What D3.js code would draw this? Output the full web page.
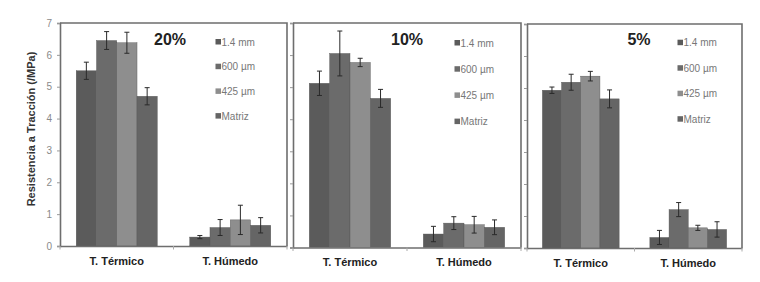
<!DOCTYPE html>
<html>
<head>
<meta charset="utf-8">
<script src="https://cdn.jsdelivr.net/npm/d3@7"></script>
<style>
  html, body { margin: 0; padding: 0; background: #fff; }
  svg { display: block; font-family: "Liberation Sans", Arial, sans-serif; }
</style>
</head>
<body>
<svg id="chart" width="760" height="282"></svg>
<script>
// ---- data ----
const categories = ["T. Térmico", "T. Húmedo"];
const seriesNames = ["1.4 mm", "600 µm", "425 µm", "Matriz"];
const panelTitles = ["20%", "10%", "5%"];
const yTicks = [0, 1, 2, 3, 4, 5, 6, 7];

// values[category][series]
const values20 = [[5.50, 6.45, 6.38, 4.70], [0.28, 0.58, 0.82, 0.65]];
const errors20 = [[0.27, 0.28, 0.33, 0.27], [0.05, 0.25, 0.46, 0.24]];
const values10 = [[5.12, 6.05, 5.77, 4.65], [0.42, 0.76, 0.71, 0.63]];
const errors10 = [[0.38, 0.70, 0.13, 0.28], [0.24, 0.20, 0.26, 0.23]];
const values5  = [[4.93, 5.18, 5.37, 4.66], [0.33, 1.20, 0.63, 0.58]];
const errors5  = [[0.10, 0.25, 0.15, 0.28], [0.22, 0.22, 0.08, 0.24]];

const panelValues = [values20, values10, values5];
const panelErrors = [errors20, errors10, errors5];

// ---- styling / layout ----
const colors = ["#5b5b5b", "#6b6b6b", "#8e8e8e", "#656565"];
const layout = [
  { x0: 60,  x1: 287, y0: 23, y1: 246,   titleX: 110, legX: 158, legY: 42, legDy: 24.7, labels: true },
  { x0: 293, x1: 521, y0: 23, y1: 247.5, titleX: 114, legX: 164, legY: 43, legDy: 26.2, labels: false },
  { x0: 527, x1: 742, y0: 24, y1: 248,   titleX: 112, legX: 153, legY: 42.7, legDy: 25.5, labels: false }
];
const frameColor = "#6e6e6e";

const svg = d3.select("#chart");

// y-axis title
svg.append("text")
  .attr("transform", "translate(35,129) rotate(-90)")
  .attr("text-anchor", "middle")
  .attr("font-size", 11).attr("font-weight", "bold").attr("fill", "#333")
  .text("Resistencia a Tracción (/MPa)");

layout.forEach((L, pi) => {
  const g = svg.append("g");
  const x0 = d3.scaleBand().domain(categories).range([L.x0, L.x1]).padding(0);
  const x1 = d3.scaleBand().domain(seriesNames).range([0, x0.bandwidth()]).paddingInner(0).paddingOuter(0.8);
  const y = d3.scaleLinear().domain([0, 7]).range([L.y1, L.y0]);

  // frame (top and right)
  g.append("path")
    .attr("d", `M${L.x0},${L.y0}H${L.x1}V${L.y1}`)
    .attr("fill", "none").attr("stroke", frameColor).attr("stroke-width", 1.6);

  // bars
  const vals = panelValues[pi], errs = panelErrors[pi];
  categories.forEach((c, ci) => {
    seriesNames.forEach((s, si) => {
      const v = vals[ci][si];
      g.append("rect")
        .attr("x", x0(c) + x1(s))
        .attr("y", y(v))
        .attr("width", x1.bandwidth())
        .attr("height", y(0) - y(v))
        .attr("fill", colors[si])
        .attr("stroke", "#555").attr("stroke-width", 0.4);
    });
  });
  // error bars
  categories.forEach((c, ci) => {
    seriesNames.forEach((s, si) => {
      const v = vals[ci][si], e = errs[ci][si];
      const cx = x0(c) + x1(s) + x1.bandwidth() / 2;
      const eg = g.append("g").attr("stroke", "#2a2a2a").attr("stroke-width", 1);
      eg.append("line").attr("x1", cx).attr("x2", cx).attr("y1", y(v + e)).attr("y2", y(v - e));
      eg.append("line").attr("x1", cx - 2.5).attr("x2", cx + 2.5).attr("y1", y(v + e)).attr("y2", y(v + e));
      eg.append("line").attr("x1", cx - 2.5).attr("x2", cx + 2.5).attr("y1", y(v - e)).attr("y2", y(v - e));
    });
  });

  // y axis
  const yAxis = d3.axisLeft(y).tickValues(yTicks).tickSize(3).tickPadding(5)
    .tickFormat(L.labels ? d3.format("d") : () => "");
  const ya = g.append("g").attr("transform", `translate(${L.x0},0)`).call(yAxis);
  ya.select(".domain").attr("stroke", frameColor).attr("stroke-width", 1.6);
  ya.selectAll(".tick line").attr("stroke", "#999");
  ya.selectAll(".tick text").attr("fill", "#8a8a8a").attr("font-size", 10)
    .attr("font-family", "Liberation Sans, Arial, sans-serif");

  // x axis
  const xa = g.append("g").attr("transform", `translate(0,${L.y1})`)
    .call(d3.axisBottom(x0).tickSize(0).tickPadding(11));
  xa.select(".domain").attr("stroke", frameColor).attr("stroke-width", 1.6);
  xa.selectAll(".tick text").attr("fill", "#222").attr("font-size", 11).attr("font-weight", "bold")
    .attr("font-family", "Liberation Sans, Arial, sans-serif");
  // boundary ticks
  const bounds = [L.x0, L.x0 + x0.bandwidth(), L.x1];
  xa.selectAll("line.bt").data(bounds).join("line").attr("class", "bt")
    .attr("x1", d => d).attr("x2", d => d).attr("y1", 0).attr("y2", 3.5)
    .attr("stroke", "#aaa").attr("stroke-width", 1);

  // title
  g.append("text")
    .attr("x", L.x0 + L.titleX).attr("y", 45)
    .attr("text-anchor", "middle")
    .attr("font-size", 16).attr("font-weight", "bold").attr("fill", "#222")
    .text(panelTitles[pi]);

  // legend
  seriesNames.forEach((s, si) => {
    const ly = L.legY + si * L.legDy;
    g.append("rect")
      .attr("x", L.x0 + L.legX - 2.5).attr("y", ly - 3)
      .attr("width", 5.5).attr("height", 5.5)
      .attr("fill", colors[si]);
    g.append("text")
      .attr("x", L.x0 + L.legX + 3.5).attr("y", ly + 3.5)
      .attr("font-size", 10).attr("fill", "#777")
      .text(s);
  });
});
</script>
</body>
</html>
